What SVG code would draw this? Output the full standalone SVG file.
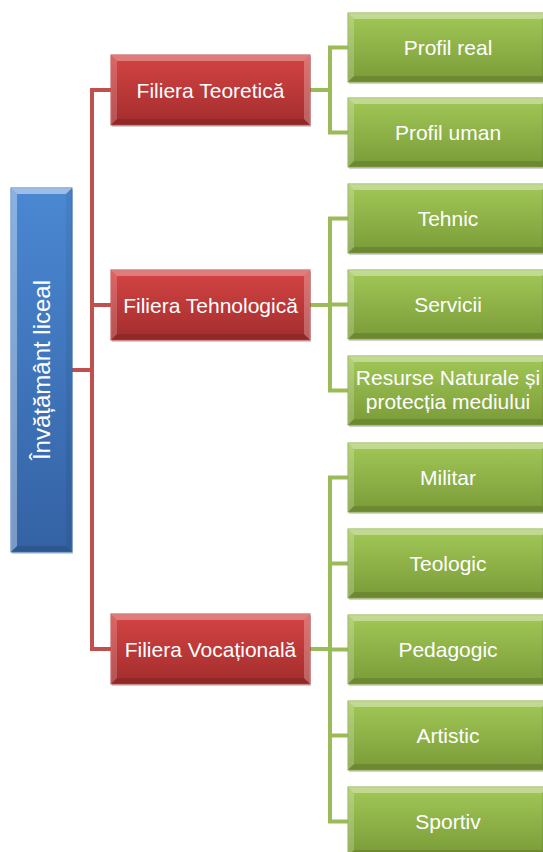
<svg xmlns="http://www.w3.org/2000/svg" xmlns:xlink="http://www.w3.org/1999/xlink" width="543" height="852" viewBox="0 0 543 852">
<style>
  .lbl { font-family: "Liberation Sans", Arial, sans-serif; font-size: 21px; fill: #ffffff; text-anchor: middle; }
  .root { font-family: "Liberation Sans", Arial, sans-serif; font-size: 24px; fill: #ffffff; text-anchor: middle; }
  .red-c { fill: none; stroke: #c0504d; stroke-width: 4; }
  .grn-c { fill: none; stroke: #9bbb59; stroke-width: 4; }
  .hl { fill: #ffffff; }
  .dk { fill: #000000; }
</style>
<defs>
  <linearGradient id="gGreen" x1="0" y1="0" x2="0" y2="1">
    <stop offset="0" stop-color="#a2c857"/>
    <stop offset="1" stop-color="#7a9b38"/>
  </linearGradient>
  <linearGradient id="gRed" x1="0" y1="0" x2="0" y2="1">
    <stop offset="0" stop-color="#d54444"/>
    <stop offset="1" stop-color="#a32d2d"/>
  </linearGradient>
  <linearGradient id="gBlue" x1="0" y1="0" x2="0" y2="1">
    <stop offset="0" stop-color="#4a88d2"/>
    <stop offset="1" stop-color="#3462a4"/>
  </linearGradient>
  <g id="greenBox">
    <rect x="1" y="2" width="200" height="69" fill="#000" opacity="0.18"/>
    <rect x="0" y="0" width="200" height="69" fill="url(#gGreen)" stroke="#8aae46" stroke-width="1"/>
    <polygon class="hl" points="0,0 200,0 194,6 6,6" opacity="0.35"/>
    <polygon class="hl" points="0,0 6,6 6,63 0,69" opacity="0.2"/>
    <polygon class="dk" points="0,69 6,63 194,63 200,69" opacity="0.12"/>
    <polygon class="dk" points="200,0 194,6 194,63 200,69" opacity="0.08"/>
  </g>
  <g id="redBox">
    <rect x="1" y="2" width="199" height="70" fill="#000" opacity="0.18"/>
    <rect x="0" y="0" width="199" height="70" fill="url(#gRed)" stroke="#c04848" stroke-width="1"/>
    <polygon class="hl" points="0,0 199,0 193,6 6,6" opacity="0.3"/>
    <polygon class="hl" points="0,0 6,6 6,64 0,70" opacity="0.18"/>
    <polygon class="dk" points="0,70 6,64 193,64 199,70" opacity="0.12"/>
    <polygon class="hl" points="199,0 193,6 193,64 199,70" opacity="0.25"/>
  </g>
</defs>

<g id="connectors">
  <path class="red-c" d="M72,370 H92 M111,90 H92 V649 H111 M92,305 H111"/>
  <path class="grn-c" d="M310,90 H330 M348,47.5 H330 V132.5 H348"/>
  <path class="grn-c" d="M310,305 H330 M348,218.5 H330 V390.5 H348 M330,304.5 H348"/>
  <path class="grn-c" d="M310,649 H330 M348,477.5 H330 V821.5 H348 M330,563.5 H348 M330,649.5 H348 M330,735.5 H348"/>
</g>

<g id="root">
  <rect x="12" y="190" width="61" height="364" fill="#000" opacity="0.18"/>
  <rect x="11" y="188" width="61" height="364" fill="url(#gBlue)" stroke="#3f78c0" stroke-width="1"/>
  <polygon class="hl" points="11,188 72,188 66,194 17,194" opacity="0.45"/>
  <polygon class="hl" points="11,188 17,194 17,546 11,552" opacity="0.35"/>
  <polygon class="dk" points="11,552 17,546 66,546 72,552" opacity="0.12"/>
  <polygon class="dk" points="72,188 66,194 66,546 72,552" opacity="0.06"/>
  <text class="root" transform="translate(50,370) rotate(-90)">Învățământ liceal</text>
</g>

<g id="filiera-teoretica">
  <use xlink:href="#redBox" x="111" y="55"/>
  <text class="lbl" x="210.5" y="97.5">Filiera Teoretică</text>
</g>
<g id="filiera-tehnologica">
  <use xlink:href="#redBox" x="111" y="270"/>
  <text class="lbl" x="210.5" y="312.5">Filiera Tehnologică</text>
</g>
<g id="filiera-vocationala">
  <use xlink:href="#redBox" x="111" y="614"/>
  <text class="lbl" x="210.5" y="656.5">Filiera Vocațională</text>
</g>

<g id="profil-real">
  <use xlink:href="#greenBox" x="348" y="13"/>
  <text class="lbl" x="448" y="55">Profil real</text>
</g>
<g id="profil-uman">
  <use xlink:href="#greenBox" x="348" y="98"/>
  <text class="lbl" x="448" y="140">Profil uman</text>
</g>
<g id="tehnic">
  <use xlink:href="#greenBox" x="348" y="184"/>
  <text class="lbl" x="448" y="226">Tehnic</text>
</g>
<g id="servicii">
  <use xlink:href="#greenBox" x="348" y="270"/>
  <text class="lbl" x="448" y="312">Servicii</text>
</g>
<g id="resurse">
  <use xlink:href="#greenBox" x="348" y="356"/>
  <text class="lbl" x="448" y="385">Resurse Naturale și</text>
  <text class="lbl" x="448" y="409">protecția mediului</text>
</g>
<g id="militar">
  <use xlink:href="#greenBox" x="348" y="443"/>
  <text class="lbl" x="448" y="485">Militar</text>
</g>
<g id="teologic">
  <use xlink:href="#greenBox" x="348" y="529"/>
  <text class="lbl" x="448" y="571">Teologic</text>
</g>
<g id="pedagogic">
  <use xlink:href="#greenBox" x="348" y="615"/>
  <text class="lbl" x="448" y="657">Pedagogic</text>
</g>
<g id="artistic">
  <use xlink:href="#greenBox" x="348" y="701"/>
  <text class="lbl" x="448" y="743">Artistic</text>
</g>
<g id="sportiv">
  <use xlink:href="#greenBox" x="348" y="787"/>
  <text class="lbl" x="448" y="829">Sportiv</text>
</g>
</svg>
